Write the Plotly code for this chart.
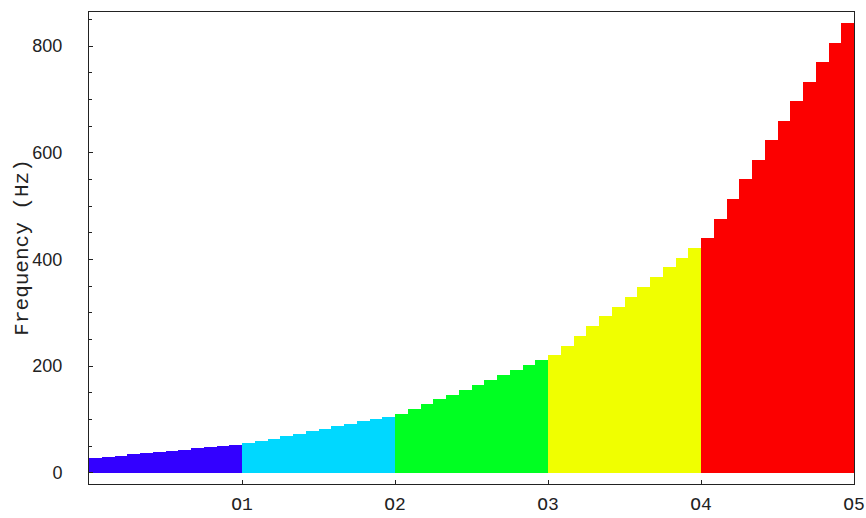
import plotly.graph_objects as go

# Semitone frequencies (Hz), twelve steps per octave band
octave_names = ["O1", "O2", "O3", "O4", "O5"]
band_colors = ["#3300ff", "#00d8ff", "#00ff22", "#f0ff00", "#fc0000"]

freq_o1 = [27.5, 29.8, 32.1, 34.4, 36.7, 39.0, 41.3, 43.5, 45.8, 48.1, 50.4, 52.7]
freq_o2 = [55.0, 59.6, 64.2, 68.8, 73.3, 77.9, 82.5, 87.1, 91.7, 96.3, 100.8, 105.4]
freq_o3 = [110.0, 119.2, 128.3, 137.5, 146.7, 155.8, 165.0, 174.2, 183.3, 192.5, 201.7, 210.8]
freq_o4 = [220.0, 238.3, 256.7, 275.0, 293.3, 311.7, 330.0, 348.3, 366.7, 385.0, 403.3, 421.7]
freq_o5 = [440.0, 476.7, 513.3, 550.0, 586.7, 623.3, 660.0, 696.7, 733.3, 770.0, 806.7, 843.3]

bands = [freq_o1, freq_o2, freq_o3, freq_o4, freq_o5]

fig = go.Figure()
step = 0
for vals, color in zip(bands, band_colors):
    xs = [step + i + 0.5 for i in range(len(vals))]
    fig.add_trace(go.Bar(
        x=xs, y=vals, width=1.0,
        marker=dict(color=color, line=dict(width=0)),
        showlegend=False, hoverinfo="x+y",
    ))
    step += len(vals)

tick_pos = [12 * (i + 1) for i in range(len(octave_names))]

fig.update_layout(
    width=866, height=518,
    margin=dict(l=89, r=12, t=12, b=34),
    paper_bgcolor="white", plot_bgcolor="white",
    bargap=0, barmode="overlay",
    showlegend=False,
)
fig.update_xaxes(
    range=[0, 60], tickvals=tick_pos, ticktext=octave_names,
    ticks="inside", ticklen=4, tickcolor="#222", tickwidth=1,
    showline=True, linecolor="#222", linewidth=1, mirror=True,
    showgrid=False, zeroline=False, automargin=False,
    tickfont=dict(family="Liberation Mono", size=18, color="#222"),
    ticklabelstandoff=3,
)
fig.update_yaxes(
    range=[-21, 864], tickvals=[0, 200, 400, 600, 800],
    ticks="inside", ticklen=4, tickcolor="#222", tickwidth=1,
    minor=dict(dtick=50, tick0=0, ticks="inside", ticklen=3, tickcolor="#222"),
    showline=True, linecolor="#222", linewidth=1, mirror=True,
    showgrid=False, zeroline=False, automargin=False,
    tickfont=dict(family="Liberation Sans", size=18, color="#222"),
    ticklabelstandoff=22,
)

# Vertical axis title
fig.add_annotation(
    text="Frequency (Hz)", textangle=-90,
    xref="paper", yref="paper", x=-0.088, y=0.5,
    xanchor="center", yanchor="middle", showarrow=False,
    font=dict(family="Liberation Mono", size=21, color="#222"),
)

fig.write_html("out.html")
